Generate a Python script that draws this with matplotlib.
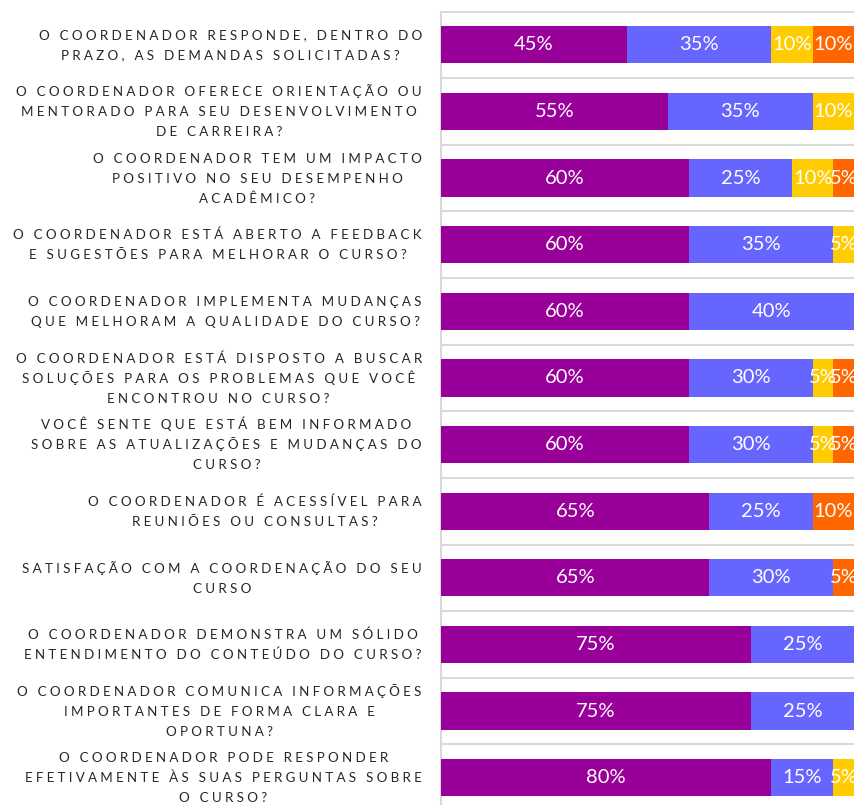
import matplotlib
matplotlib.use("Agg")
import matplotlib.pyplot as plt
import matplotlib.transforms as mtransforms
import numpy as np

categories = [
    "O COORDENADOR RESPONDE, DENTRO DO\nPRAZO, AS DEMANDAS SOLICITADAS?",
    "O COORDENADOR OFERECE ORIENTAÇÃO OU\nMENTORADO PARA SEU DESENVOLVIMENTO\nDE CARREIRA?",
    "O COORDENADOR TEM UM IMPACTO\nPOSITIVO NO SEU DESEMPENHO\nACADÊMICO?",
    "O COORDENADOR ESTÁ ABERTO A FEEDBACK\nE SUGESTÕES PARA MELHORAR O CURSO?",
    "O COORDENADOR IMPLEMENTA MUDANÇAS\nQUE MELHORAM A QUALIDADE DO CURSO?",
    "O COORDENADOR ESTÁ DISPOSTO A BUSCAR\nSOLUÇÕES PARA OS PROBLEMAS QUE VOCÊ\nENCONTROU NO CURSO?",
    "VOCÊ SENTE QUE ESTÁ BEM INFORMADO\nSOBRE AS ATUALIZAÇÕES E MUDANÇAS DO\nCURSO?",
    "O COORDENADOR É ACESSÍVEL PARA\nREUNIÕES OU CONSULTAS?",
    "SATISFAÇÃO COM A COORDENAÇÃO DO SEU\nCURSO",
    "O COORDENADOR DEMONSTRA UM SÓLIDO\nENTENDIMENTO DO CONTEÚDO DO CURSO?",
    "O COORDENADOR COMUNICA INFORMAÇÕES\nIMPORTANTES DE FORMA CLARA E\nOPORTUNA?",
    "O COORDENADOR PODE RESPONDER\nEFETIVAMENTE ÀS SUAS PERGUNTAS SOBRE\nO CURSO?",
]

series_purple = [45, 55, 60, 60, 60, 60, 60, 65, 65, 75, 75, 80]
series_blue = [35, 35, 25, 35, 40, 30, 30, 25, 30, 25, 25, 15]
series_yellow = [10, 10, 10, 5, 0, 5, 5, 0, 0, 0, 0, 5]
series_orange = [10, 0, 5, 0, 0, 5, 5, 10, 5, 0, 0, 0]

series = [series_purple, series_blue, series_yellow, series_orange]
colors = ["#990099", "#6666FF", "#FFCC00", "#FF6600"]


def spaced(line):
    # letter spacing (tracking) with thin spaces
    sep = "\u2009\u2009"
    return sep.join(line) + sep


W, H = 856, 805
DPI = 100
fig = plt.figure(figsize=(W / DPI, H / DPI), dpi=DPI)
left, right, top, bottom = 441, 854, 11.5, 811
ax = fig.add_axes([left / W, (H - bottom) / H, (right - left) / W, (bottom - top) / H])

y = np.arange(len(categories))
cum = np.zeros(len(categories))
for vals, c in zip(series, colors):
    vals = np.array(vals, dtype=float)
    ax.barh(y, vals, left=cum, height=0.56, color=c, zorder=3)
    for yi, v, l in zip(y, vals, cum):
        if v > 0:
            ax.text(l + v / 2, yi, f"{int(v)}%", ha="center", va="center",
                    color="white", fontsize=14.5, family=["Lato", "DejaVu Sans"], zorder=4)
    cum += vals

ax.set_xlim(0, 100)
ax.set_ylim(len(categories) - 0.5, -0.5)
ax.set_xticks([])
ax.set_yticks([])
ax.set_yticks(np.arange(len(categories) + 1) - 0.5, minor=True)
ax.tick_params(which="both", length=0, labelleft=False)
ax.grid(which="minor", axis="y", color="#d9d9d9", linewidth=1.5, zorder=0)
for s in ["right", "bottom", "top"]:
    ax.spines[s].set_visible(False)
ax.spines["left"].set_color("#d9d9d9")
ax.spines["left"].set_linewidth(1.5)

# category labels: each line placed with a uniform line pitch, block centred
renderer = fig.canvas.get_renderer()
pitch = 20.0      # px between lines
gap = 16.0        # px between label block and axis
cap_half = 4.7    # px, half cap height (baseline offset)
ytrans = ax.get_yaxis_transform()
for yi, lab in zip(y, categories):
    lines = lab.split("\n")
    n = len(lines)
    txts = [ax.text(0, yi, spaced(line), transform=ytrans, ha="center", va="baseline",
                    fontsize=9.6, color="#262626", family=["Lato", "DejaVu Sans"],
                    clip_on=False) for line in lines]
    widths = [t.get_window_extent(renderer).width for t in txts]
    maxw = max(widths)
    for i, t in enumerate(txts):
        dx = (-gap - maxw / 2) / DPI
        dy = (-(i - (n - 1) / 2) * pitch - cap_half) / DPI
        t.set_transform(ytrans + mtransforms.ScaledTranslation(dx, dy, fig.dpi_scale_trans))

fig.savefig("out.png", dpi=DPI)
